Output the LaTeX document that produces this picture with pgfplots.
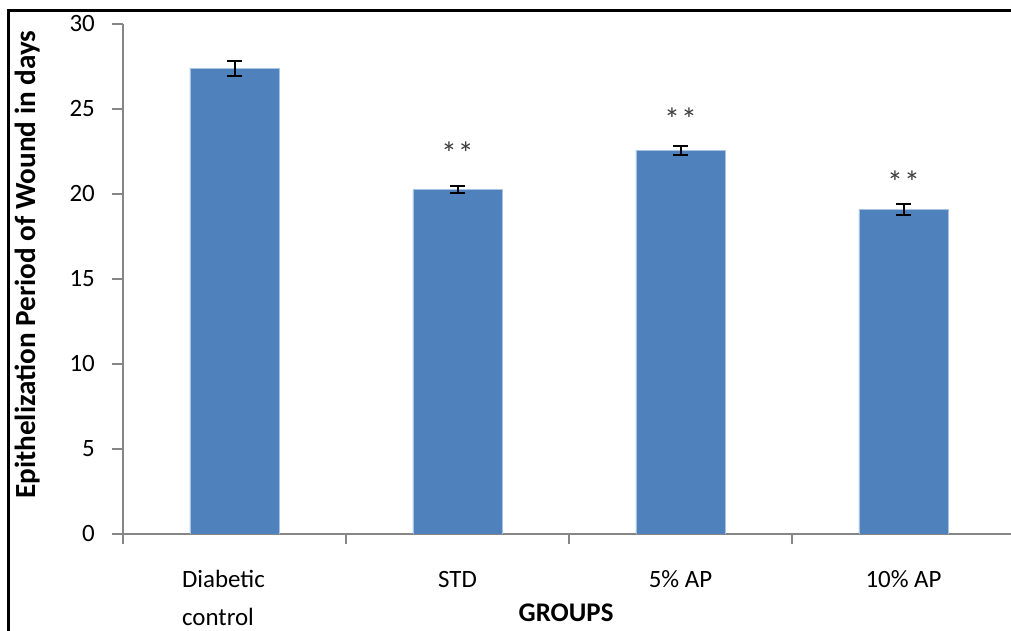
\documentclass[border=0pt]{standalone}
\usepackage{pgfplots}
\pgfplotsset{compat=1.18}
\usepackage{fontspec}
\setmainfont{Carlito}
\definecolor{barblue}{RGB}{79,129,189}
\definecolor{baredge}{RGB}{170,195,225}
\definecolor{axisgray}{RGB}{134,134,134}
\definecolor{stargray}{RGB}{60,60,60}
\begin{document}
\begin{tikzpicture}
\useasboundingbox (0,0) rectangle (1011bp,631bp);
\begin{axis}[
  at={(123bp,97bp)}, anchor=south west,
  width=888bp, height=510bp, scale only axis,
  xmin=-0.5, xmax=3.482, ymin=0, ymax=30,
  axis lines*=left,
  axis line style={axisgray, line width=1.3bp},
  ybar, bar width=0.4,
  xtick={0,1,2,3},
  xticklabels={{\hspace*{-22bp}\begin{tabular}[t]{@{}l@{}}Diabetic\\control\end{tabular}},STD,{5\% AP},{10\% AP}},
  minor xtick={-0.5,0.5,1.5,2.5},
  ytick={0,5,...,30},
  tick align=outside,
  major tick length=11bp, minor tick length=10bp,
  tick style={axisgray, line width=1.3bp},
  major x tick style={draw=none},
  /pgf/number format/assume math mode=true,
  ticklabel style={font=\fontsize{25}{39}\selectfont, text=black},
  xticklabel style={anchor=base, inner sep=0pt, yshift=-42bp},
  yticklabel style={anchor=east, inner sep=0pt, xshift=-17bp},
  ylabel={Epithelization Period of Wound in days},
  ylabel style={font=\bfseries\fontsize{29.3}{32}\selectfont, at={(axis description cs:-0.108,0.528)}, anchor=center},
  xlabel={GROUPS},
  xlabel style={font=\bfseries\fontsize{27}{30}\selectfont, at={(axis description cs:0.499,-0.155)}, anchor=center},
]
\addplot[fill=barblue, draw=baredge, line width=0.8bp,
  error bars/.cd, y dir=both, y explicit,
  error bar style={black, line width=2bp},
  error mark options={black, line width=2bp, mark size=7.5bp, rotate=90}]
  coordinates {(0,27.4) +- (0,0.45) (1,20.25) +- (0,0.2) (2,22.57) +- (0,0.27) (3,19.1) +- (0,0.32)};
\node[font=\fontsize{32}{36}\selectfont, text=stargray, anchor=base] at (axis cs:1,21.74) {*\kern1bp*};
\node[font=\fontsize{32}{36}\selectfont, text=stargray, anchor=base] at (axis cs:2,23.74) {*\kern1bp*};
\node[font=\fontsize{32}{36}\selectfont, text=stargray, anchor=base] at (axis cs:3,20.02) {*\kern1bp*};
\end{axis}
\draw[line width=2.7bp, black, line join=miter] (8.7bp,0) -- (8.7bp,620.3bp) -- (1011bp,620.3bp);
\end{tikzpicture}
\end{document}
